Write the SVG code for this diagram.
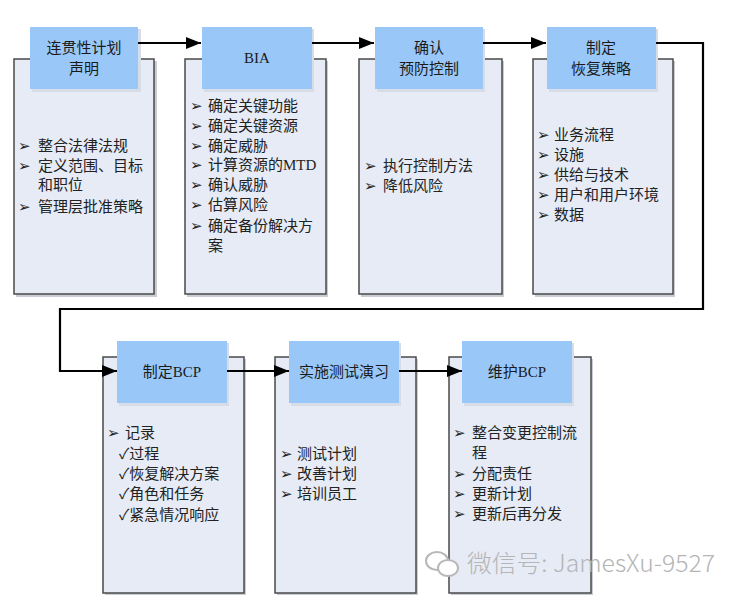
<svg xmlns="http://www.w3.org/2000/svg" width="741" height="600" viewBox="0 0 741 600">
<defs>
<marker id="arr" markerUnits="userSpaceOnUse" markerWidth="16" markerHeight="12" refX="15" refY="6" orient="auto">
<path d="M0,0 L15,6 L0,12 Z" fill="#000"/>
</marker>
<style>
.body{fill:#e6ebf5;stroke:#4a4a4a;stroke-width:1.5}
.sh{fill:#c9ccd2}
.hd{fill:#99c8f8}
.hsh{fill:#d6dde6}
.t{font-family:"Liberation Serif","Noto Sans CJK SC",serif;font-size:15px;fill:#222}
.h{font-family:"Liberation Serif","Noto Sans CJK SC",serif;font-size:15px;fill:#1a1a1a;text-anchor:middle}
.con{fill:none;stroke:#000;stroke-width:2.2}
.wm{font-family:"Noto Sans CJK SC","Noto Sans",sans-serif;font-weight:300;font-size:24px;fill:#b5b5b5}
</style>
</defs>
<rect width="741" height="600" fill="#fff"/>

<g id="n1">
<rect class="sh" x="16" y="61" width="141" height="236"/>
<rect class="body" x="14" y="59" width="140" height="235"/>
<rect class="hsh" x="32" y="29" width="109" height="63"/>
<rect class="hd" x="30" y="27" width="108" height="62"/>
<text class="h" x="84" y="53">连贯性计划</text>
<text class="h" x="84" y="74">声明</text>
<text class="t" x="18" y="151">➢</text><text class="t" x="38" y="151">整合法律法规</text>
<text class="t" x="18" y="171">➢</text><text class="t" x="38" y="171">定义范围、目标</text>
<text class="t" x="38" y="190">和职位</text>
<text class="t" x="18" y="212">➢</text><text class="t" x="38" y="212">管理层批准策略</text>
</g>

<g id="n2">
<rect class="sh" x="187" y="61" width="141" height="236"/>
<rect class="body" x="185" y="59" width="141" height="235"/>
<rect class="hsh" x="204" y="29" width="110" height="63"/>
<rect class="hd" x="202" y="27" width="110" height="62"/>
<text class="h" x="257" y="63">BIA</text>
<text class="t" x="190" y="111">➢</text><text class="t" x="208" y="111">确定关键功能</text>
<text class="t" x="190" y="131">➢</text><text class="t" x="208" y="131">确定关键资源</text>
<text class="t" x="190" y="151">➢</text><text class="t" x="208" y="151">确定威胁</text>
<text class="t" x="190" y="170">➢</text><text class="t" x="208" y="170">计算资源的MTD</text>
<text class="t" x="190" y="190">➢</text><text class="t" x="208" y="190">确认威胁</text>
<text class="t" x="190" y="210">➢</text><text class="t" x="208" y="210">估算风险</text>
<text class="t" x="190" y="231">➢</text><text class="t" x="208" y="231">确定备份解决方</text>
<text class="t" x="208" y="251">案</text>
</g>

<g id="n3">
<rect class="sh" x="361" y="61" width="143" height="236"/>
<rect class="body" x="359" y="59" width="143" height="235"/>
<rect class="hsh" x="377" y="29" width="108" height="63"/>
<rect class="hd" x="375" y="27" width="108" height="62"/>
<text class="h" x="429" y="53">确认</text>
<text class="h" x="429" y="74">预防控制</text>
<text class="t" x="364" y="171">➢</text><text class="t" x="383" y="171">执行控制方法</text>
<text class="t" x="364" y="191">➢</text><text class="t" x="383" y="191">降低风险</text>
</g>

<g id="n4">
<rect class="sh" x="535" y="61" width="140" height="236"/>
<rect class="body" x="533" y="59" width="140" height="235"/>
<rect class="hsh" x="549" y="29" width="109" height="63"/>
<rect class="hd" x="547" y="27" width="109" height="62"/>
<text class="h" x="601" y="53">制定</text>
<text class="h" x="601" y="74">恢复策略</text>
<text class="t" x="537" y="140">➢</text><text class="t" x="554" y="140">业务流程</text>
<text class="t" x="537" y="160">➢</text><text class="t" x="554" y="160">设施</text>
<text class="t" x="537" y="180">➢</text><text class="t" x="554" y="180">供给与技术</text>
<text class="t" x="537" y="200">➢</text><text class="t" x="554" y="200">用户和用户环境</text>
<text class="t" x="537" y="220">➢</text><text class="t" x="554" y="220">数据</text>
</g>

<g id="n5">
<rect class="sh" x="105" y="359" width="141" height="236"/>
<rect class="body" x="103" y="357" width="141" height="236"/>
<rect class="hsh" x="119" y="343" width="110" height="63"/>
<rect class="hd" x="117" y="341" width="110" height="62"/>
<text class="h" x="172" y="377">制定BCP</text>
<text class="t" x="107" y="438">➢</text><text class="t" x="125" y="438">记录</text>
<text class="t" x="119" y="459">✓过程</text>
<text class="t" x="119" y="479">✓恢复解决方案</text>
<text class="t" x="119" y="499">✓角色和任务</text>
<text class="t" x="119" y="520">✓紧急情况响应</text>
</g>

<g id="n6">
<rect class="sh" x="277" y="359" width="141" height="236"/>
<rect class="body" x="275" y="357" width="141" height="236"/>
<rect class="hsh" x="291" y="343" width="110" height="63"/>
<rect class="hd" x="289" y="341" width="110" height="62"/>
<text class="h" x="344" y="377">实施测试演习</text>
<text class="t" x="280" y="459">➢</text><text class="t" x="297" y="459">测试计划</text>
<text class="t" x="280" y="479">➢</text><text class="t" x="297" y="479">改善计划</text>
<text class="t" x="280" y="499">➢</text><text class="t" x="297" y="499">培训员工</text>
</g>

<g id="n7">
<rect class="sh" x="451" y="359" width="142" height="236"/>
<rect class="body" x="449" y="357" width="142" height="236"/>
<rect class="hsh" x="464" y="343" width="110" height="63"/>
<rect class="hd" x="462" y="341" width="110" height="62"/>
<text class="h" x="517" y="377">维护BCP</text>
<text class="t" x="453" y="438">➢</text><text class="t" x="472" y="438">整合变更控制流</text>
<text class="t" x="472" y="458">程</text>
<text class="t" x="453" y="479">➢</text><text class="t" x="472" y="479">分配责任</text>
<text class="t" x="453" y="499">➢</text><text class="t" x="472" y="499">更新计划</text>
<text class="t" x="453" y="519">➢</text><text class="t" x="472" y="519">更新后再分发</text>
</g>

<g id="connectors">
<path class="con" d="M138,43 H201" marker-end="url(#arr)"/>
<path class="con" d="M312,43 H374" marker-end="url(#arr)"/>
<path class="con" d="M483,43 H546" marker-end="url(#arr)"/>
<path class="con" d="M656,43 H703 V309 H60 V371 H117" marker-end="url(#arr)"/>
<path class="con" d="M227,371 H289" marker-end="url(#arr)"/>
<path class="con" d="M399,371 H462" marker-end="url(#arr)"/>
</g>

<g id="watermark">
<ellipse cx="437" cy="561" rx="11" ry="9" fill="#fff" stroke="#b8b8b8" stroke-width="2"/>
<ellipse cx="448" cy="568" rx="10" ry="8" fill="#fff" stroke="#b8b8b8" stroke-width="2"/>
<text class="wm" x="467" y="572" textLength="248" lengthAdjust="spacingAndGlyphs">微信号: JamesXu-9527</text>
</g>
</svg>
